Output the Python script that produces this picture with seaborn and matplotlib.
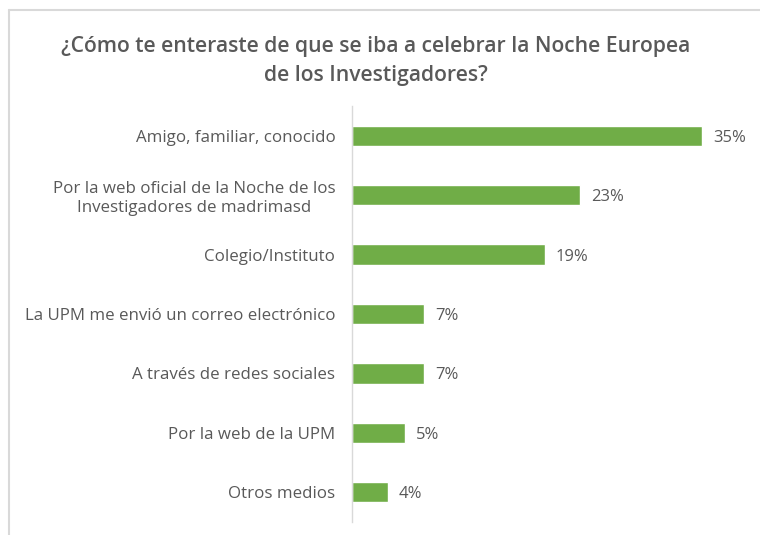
import numpy as np
import pandas as pd
import seaborn as sns
import matplotlib.pyplot as plt
from matplotlib.lines import Line2D

# data
categories = [
    "Amigo, familiar, conocido",
    "Por la web oficial de la Noche de los\nInvestigadores de madrimasd",
    "Colegio/Instituto",
    "La UPM me envió un correo electrónico",
    "A través de redes sociales",
    "Por la web de la UPM",
    "Otros medios",
]
values = [35.0, 22.8, 19.3, 7.2, 7.2, 5.3, 3.6]
labels = ["35%", "23%", "19%", "7%", "7%", "5%", "4%"]
title = "¿Cómo te enteraste de que se iba a celebrar la Noche Europea\nde los Investigadores?"

GREEN = "#70AD47"
GREY = "#595959"
BORDER = "#D9D9D9"

df = pd.DataFrame({"medio": categories, "pct": values})

sns.set_theme(style="white")
plt.rcParams["font.family"] = ["Open Sans", "DejaVu Sans"]

fig = plt.figure(figsize=(7.6, 5.35), dpi=100)
ax = fig.add_axes([352 / 760, 1 - 522 / 535, 400 / 760, 416 / 535])

sns.barplot(data=df, x="pct", y="medio", color=GREEN, width=0.34,
            saturation=1, ax=ax)

ax.set_xlim(0, 40)
ax.set_ylim(len(categories) - 0.5, -0.5)
ax.set_xlabel("")
ax.set_ylabel("")
ax.set_xticks([])
ax.tick_params(axis="y", length=0, pad=12, labelsize=12.2, labelcolor=GREY)
for t in ax.get_yticklabels():
    t.set_multialignment("center")

for s in ["top", "right", "bottom"]:
    ax.spines[s].set_visible(False)
ax.spines["left"].set_color(BORDER)
ax.spines["left"].set_linewidth(1)

for i, (v, lab) in enumerate(zip(values, labels)):
    ax.text(v + 1.1, i, lab, va="center_baseline", ha="left", fontsize=12,
            color=GREY)

fig.text(376 / 760, 1 - 61 / 535, title, ha="center", va="center",
         fontsize=15.2, color=GREY, fontweight="semibold", linespacing=1.5)

# chart area border (left and top edges visible)
fig.add_artist(Line2D([8.5 / 760, 8.5 / 760], [0, 1 - 9.5 / 535],
                      color=BORDER, lw=1.5, transform=fig.transFigure))
fig.add_artist(Line2D([8.5 / 760, 1], [1 - 9.5 / 535, 1 - 9.5 / 535],
                      color=BORDER, lw=1.5, transform=fig.transFigure))

fig.savefig("out.png", dpi=100)
